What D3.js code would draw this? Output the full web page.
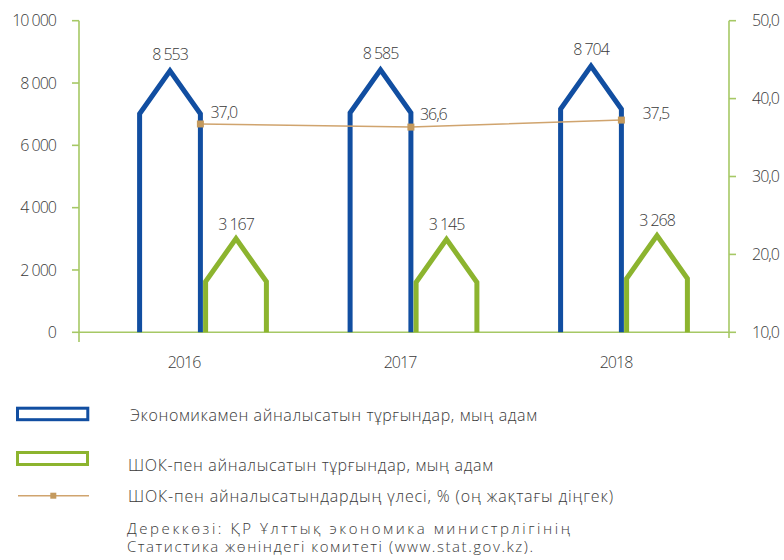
<!DOCTYPE html>
<html><head><meta charset="utf-8">
<script src="https://cdn.jsdelivr.net/npm/d3@7"></script>
<style>
body{margin:0;background:#fff;}
text{font-family:"Open Sans",sans-serif;font-weight:300;fill:#3a3a3a;}
</style></head><body>
<svg id="c" width="784" height="560"></svg>
<script>
const years = ["2016","2017","2018"];
const employed = [8553, 8585, 8704];
const smeEmployed = [3167, 3145, 3268];
const smeShare = [37.0, 36.6, 37.5];
const leftTicks = [0, 2000, 4000, 6000, 8000, 10000];
const rightTicks = [10, 20, 30, 40, 50];
const legendLabels = [
  "Экономикамен айналысатын тұрғындар, мың адам",
  "ШОК-пен айналысатын тұрғындар, мың адам",
  "ШОК-пен айналысатындардың үлесі, % (оң жақтағы діңгек)"
];
const sourceLines = [
  "Дереккөзі: ҚР Ұлттық экономика министрлігінің",
  "Статистика жөніндегі комитеті (www.stat.gov.kz)."
];

const BLUE = "#114ea1", GREEN = "#8cb42f", AXIS = "#a6c865", LINE = "#d0a46e", MARK = "#c49a5e";
const svg = d3.select("#c");
const fmt = v => d3.format(",")(v).replace(/,/g, " ");
const fmt1 = v => d3.format(".1f")(v).replace(".", ",");
const NUMSIZE = 16, NUMLS = -1;

const y = d3.scaleLinear().domain([0, 10000]).range([332.3, 20.7]);
const y2 = d3.scaleLinear().domain([10, 50]).range([332.3, 20.7]);
const xLab = d3.scaleBand().domain(years).range([76, 724]);
const xBar = d3.scalePoint().domain(years).range([170, 591]);
const HW = 30.4, ROOF = 43, GOFF = 66, PEAKOFF = 5;
const base = y(0);

// bottom axis line
svg.append("line").attr("x1", 79).attr("x2", 729).attr("y1", base).attr("y2", base)
  .attr("stroke", AXIS).attr("stroke-width", 1.6);

// left axis
const gl = svg.append("g");
gl.append("line").attr("x1", 79).attr("x2", 79).attr("y1", y(10000)).attr("y2", 342)
  .attr("stroke", AXIS).attr("stroke-width", 1.6);
leftTicks.forEach(t => {
  gl.append("line").attr("x1", 72).attr("x2", 79).attr("y1", y(t)).attr("y2", y(t))
    .attr("stroke", AXIS).attr("stroke-width", 1.6);
  gl.append("text").attr("x", 56).attr("y", y(t)).attr("dy", "0.36em")
    .attr("text-anchor", "end").attr("font-size", NUMSIZE).attr("letter-spacing", NUMLS).text(fmt(t));
});
// right axis
const gr = svg.append("g");
gr.append("line").attr("x1", 729).attr("x2", 729).attr("y1", y2(50)).attr("y2", 338)
  .attr("stroke", AXIS).attr("stroke-width", 1.6);
rightTicks.forEach(t => {
  gr.append("line").attr("x1", 729).attr("x2", 736).attr("y1", y2(t)).attr("y2", y2(t))
    .attr("stroke", AXIS).attr("stroke-width", 1.6);
  gr.append("text").attr("x", 752).attr("y", y2(t)).attr("dy", "0.36em")
    .attr("text-anchor", "start").attr("font-size", NUMSIZE).attr("letter-spacing", NUMLS).text(fmt1(t));
});
// category labels
years.forEach(yr => {
  svg.append("text").attr("x", xLab(yr) + xLab.bandwidth() / 2).attr("y", 368)
    .attr("text-anchor", "middle").attr("font-size", NUMSIZE).attr("letter-spacing", NUMLS).text(yr);
});

function house(cx, val) {
  const p = d3.path();
  const peak = y(val) + PEAKOFF;
  p.moveTo(cx - HW, base);
  p.lineTo(cx - HW, peak + ROOF);
  p.lineTo(cx, peak);
  p.lineTo(cx + HW, peak + ROOF);
  p.lineTo(cx + HW, base);
  return p.toString();
}
years.forEach((yr, i) => {
  const cb = xBar(yr), cg = cb + GOFF;
  svg.append("path").attr("d", house(cb, employed[i])).attr("fill", "none")
    .attr("stroke", BLUE).attr("stroke-width", 5).attr("stroke-linejoin", "miter");
  svg.append("path").attr("d", house(cg, smeEmployed[i])).attr("fill", "none")
    .attr("stroke", GREEN).attr("stroke-width", 5).attr("stroke-linejoin", "miter");
  svg.append("text").attr("x", cb).attr("y", y(employed[i]) + PEAKOFF - 11)
    .attr("text-anchor", "middle").attr("font-size", NUMSIZE).attr("letter-spacing", NUMLS).text(fmt(employed[i]));
  svg.append("text").attr("x", cg).attr("y", y(smeEmployed[i]) + PEAKOFF - 9)
    .attr("text-anchor", "middle").attr("font-size", NUMSIZE).attr("letter-spacing", NUMLS).text(fmt(smeEmployed[i]));
});

// share line
const pts = years.map((yr, i) => [xBar(yr) + HW, y2(smeShare[i]) + 2]);
svg.append("path").attr("d", d3.line()(pts)).attr("fill", "none")
  .attr("stroke", LINE).attr("stroke-width", 1.5);
const lblOff = [[10, -6], [9, -7], [21, -1]];
pts.forEach((p, i) => {
  svg.append("rect").attr("x", p[0] - 3.5).attr("y", p[1] - 3.5).attr("width", 7).attr("height", 7).attr("fill", MARK);
  svg.append("text").attr("x", p[0] + lblOff[i][0]).attr("y", p[1] + lblOff[i][1])
    .attr("font-size", NUMSIZE).attr("letter-spacing", NUMLS).text(fmt1(smeShare[i]));
});

// legend
const lg = svg.append("g");
lg.append("rect").attr("x", 17.5).attr("y", 408.2).attr("width", 70.3).attr("height", 11.5)
  .attr("fill", "none").attr("stroke", BLUE).attr("stroke-width", 3);
lg.append("rect").attr("x", 17.5).attr("y", 452.5).attr("width", 70).attr("height", 12)
  .attr("fill", "none").attr("stroke", GREEN).attr("stroke-width", 3);
lg.append("line").attr("x1", 18).attr("x2", 89).attr("y1", 495.7).attr("y2", 495.7)
  .attr("stroke", LINE).attr("stroke-width", 1.5);
lg.append("rect").attr("x", 50.3).attr("y", 492.7).attr("width", 6).attr("height", 6).attr("fill", MARK);
const legX = [130, 128, 128], legY = [421, 470.5, 501.5], legW = [407, 365, 485];
legendLabels.forEach((t, i) => {
  lg.append("text").attr("x", legX[i]).attr("y", legY[i]).attr("font-size", 16)
    .attr("textLength", legW[i]).attr("lengthAdjust", "spacing").text(t);
});
// source note: one multi-line text element
const srcW = [443, 406];
const src = lg.append("text").attr("x", 127).attr("y", 533.5).attr("font-size", 15);
sourceLines.forEach((t, i) => {
  src.append("tspan").attr("x", 127).attr("y", 533.5 + i * 18.2)
    .attr("textLength", srcW[i]).attr("lengthAdjust", "spacing").text(t);
});
</script></body></html>
